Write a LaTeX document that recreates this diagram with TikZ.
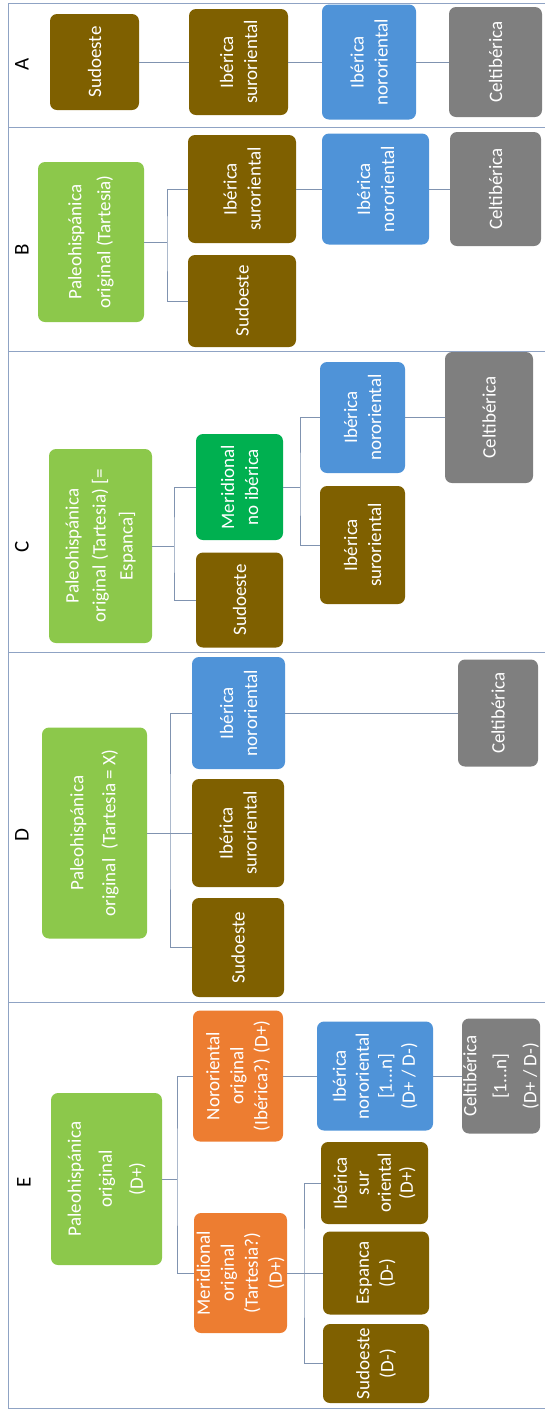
\documentclass[tikz,border=0pt]{standalone}
\usepackage{fontspec}
\setmainfont{Carlito}
\definecolor{brownfill}{HTML}{7F6000}
\definecolor{bluefill}{HTML}{4F93D8}
\definecolor{grayfill}{HTML}{7F7F7F}
\definecolor{greenfill}{HTML}{8CC84B}
\definecolor{darkgreenfill}{HTML}{00B050}
\definecolor{orangefill}{HTML}{ED7D31}
\definecolor{framecol}{HTML}{8FA3C4}
\definecolor{linkcol}{HTML}{8093B0}
\begin{document}
\begin{tikzpicture}[x=1pt, y=-1pt,
    box/.style={rounded corners=7pt, rotate=90, text=white, align=center, inner sep=0pt, font=\fontsize{19}{24}\selectfont},
    dims/.style 2 args={minimum width=#1pt, minimum height=#2pt},
    brownbox/.style={box, fill=brownfill},
    bluebox/.style={box, fill=bluefill},
    graybox/.style={box, fill=grayfill},
    greenbox/.style={box, fill=greenfill, font=\fontsize{19}{29}\selectfont},
    darkgreenbox/.style={box, fill=darkgreenfill},
    orangebox/.style={box, fill=orangefill},
    link/.style={draw=linkcol, line width=0.8pt},
    frame/.style={draw=framecol, line width=1pt},
    letter/.style={rotate=90, font=\fontsize{21}{24}\selectfont}]
    \useasboundingbox (0,0) rectangle (545,1409);
    \draw[frame] (545,3.5) -- (8.7,3.5) -- (8.7,1408) -- (545,1408);
    \foreach \y in {127,351,652,1002}
        \draw[frame] (8.7,\y) -- (545,\y);

    \node[letter] (la) at (22,64) {A};
    \node[letter] (lb) at (22,250) {B};
    \node[letter] (lc) at (22,547) {C};
    \node[letter] (ld) at (22,835) {D};
    \node[letter] (le) at (24,1182) {E};

    \node[brownbox, dims={96}{89}] (a1) at (94.5,62) {Sudoeste};
    \node[brownbox, dims={106}{99}] (a2) at (238.5,62) {Ibérica\\suroriental};
    \node[bluebox, dims={115}{94}] (a3) at (369,62) {Ibérica\\nororiental};
    \node[graybox, dims={110}{93}] (a4) at (495.5,62) {Celtibérica};
    \draw[link] (a1.south) -- (a2.north);
    \draw[link] (a2.south) -- (a3.north);
    \draw[link] (a3.south) -- (a4.north);

    \node[greenbox, dims={160}{106}] (b0) at (91,242) {Paleohispánica\\original (Tartesia)};
    \node[brownbox, dims={108}{108}] (b1) at (242,189) {Ibérica\\suroriental};
    \node[brownbox, dims={92}{108}] (b2) at (242,301) {Sudoeste};
    \node[bluebox, dims={111}{107}] (b3) at (375.5,189) {Ibérica\\nororiental};
    \node[graybox, dims={114}{91}] (b4) at (495.5,189) {Celtibérica};
    \coordinate (bj) at (167,242);
    \draw[link] (b0.south) -- (bj);
    \draw[link] (b1.north) -| (bj) |- (b2.north);
    \draw[link] (b1.south) -- (b3.north);
    \draw[link] (b3.south) -- (b4.north);

    \node[greenbox, font=\fontsize{19}{27}\selectfont, dims={194}{103}] (c0) at (100.5,546) {Paleohispánica\\original (Tartesia) [=\\Espanca]};
    \node[darkgreenbox, dims={106}{87}] (c1) at (239.5,487) {Meridional\\no ibérica};
    \node[brownbox, dims={95}{87}] (c2) at (239.5,600) {Sudoeste};
    \node[bluebox, dims={111}{85}] (c3) at (362.5,417.5) {Ibérica\\nororiental};
    \node[brownbox, dims={118}{85}] (c4) at (362.5,545) {Ibérica\\suroriental};
    \node[graybox, dims={131}{88}] (c5) at (489,417.5) {Celtibérica};
    \coordinate (cj) at (174,546);
    \coordinate (ck) at (300,487);
    \draw[link] (c0.south) -- (cj);
    \draw[link] (c1.north) -| (cj) |- (c2.north);
    \draw[link] (c1.south) -- (ck);
    \draw[link] (c3.north) -| (ck) |- (c4.north);
    \draw[link] (c3.south) -- (c5.north);

    \node[greenbox, font=\fontsize{19}{32}\selectfont, dims={211}{105}] (d0) at (94.5,833) {Paleohispánica\\original\enspace(Tartesia = X)};
    \node[bluebox, dims={112}{93}] (d1) at (238.5,713) {Ibérica\\nororiental};
    \node[brownbox, dims={108}{92}] (d2) at (238,833) {Ibérica\\suroriental};
    \node[brownbox, dims={99}{92}] (d3) at (238,947.5) {Sudoeste};
    \node[graybox, dims={107}{80}] (d4) at (498,713) {Celtibérica};
    \coordinate (dj) at (170,833);
    \draw[link] (d0.south) -- (d2.north);
    \draw[link] (d1.north) -| (dj) |- (d3.north);
    \draw[link] (d1.south) -- (d4.north);

    \node[greenbox, font=\fontsize{19}{31}\selectfont, dims={172}{111}] (e0) at (106.5,1179) {Paleohispánica\\original\\(D+)};
    \node[orangebox, dims={131}{90}] (e1) at (238,1076) {Nororiental\\original\\(Ibérica?) (D+)};
    \node[orangebox, dims={120}{93}] (e2) at (240.5,1273) {Meridional\\original\\(Tartesia?)\\(D+)};
    \node[bluebox, font=\fontsize{19}{23}\selectfont, dims={109}{116}] (e3) at (375,1076) {Ibérica\\nororiental\\{[1...n]}\\(D+ / D-)};
    \node[graybox, font=\fontsize{19}{30}\selectfont, dims={115}{78}] (e4) at (501,1076) {Celtibérica\\{[1...n]}\\(D+ / D-)};
    \node[brownbox, font=\fontsize{19}{22}\selectfont, dims={82}{107}] (e5) at (374.5,1183) {Ibérica\\sur\\oriental\\(D+)};
    \node[brownbox, dims={83}{106}] (e6) at (376,1273) {Espanca\\(D-)};
    \node[brownbox, dims={79}{106}] (e7) at (376,1363.5) {Sudoeste\\(D-)};
    \coordinate (ej) at (177,1179);
    \coordinate (ek) at (304,1273);
    \draw[link] (e0.south) -- (ej);
    \draw[link] (e1.north) -| (ej) |- (e2.north);
    \draw[link] (e1.south) -- (e3.north);
    \draw[link] (e3.south) -- (e4.north);
    \draw[link] (e2.south) -- (e6.north);
    \draw[link] (e5.north) -| (ek) |- (e7.north);
\end{tikzpicture}
\end{document}
